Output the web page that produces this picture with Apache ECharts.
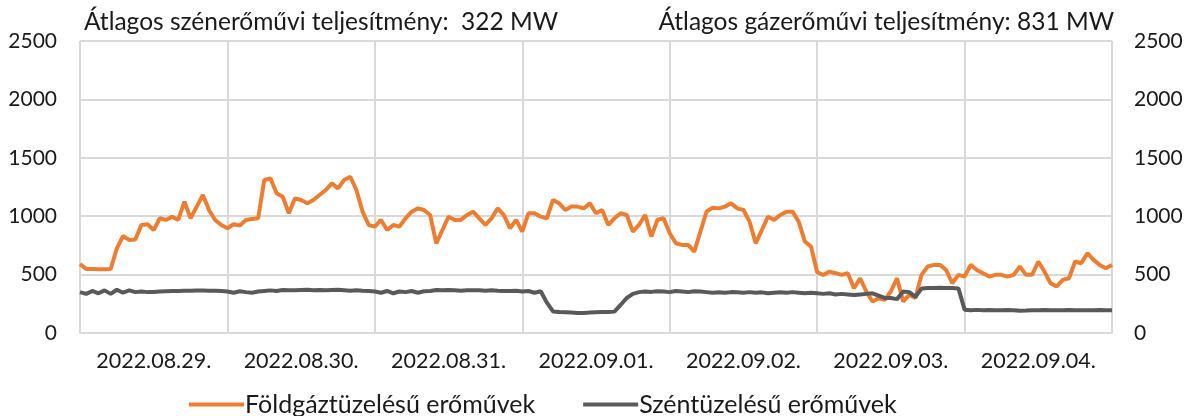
<!DOCTYPE html>
<html><head><meta charset="utf-8">
<script src="https://cdn.jsdelivr.net/npm/echarts@6/dist/echarts.min.js"></script>
<style>html,body{margin:0;padding:0;background:#fff}#c{width:1187px;height:416px}</style>
</head><body><div id="c"></div>
<script>
const days = ['2022.08.29.','2022.08.30.','2022.08.31.','2022.09.01.','2022.09.02.','2022.09.03.','2022.09.04.'];
const yTicks = [0,500,1000,1500,2000,2500];
const gasName = 'Földgáztüzelésű erőművek';
const coalName = 'Széntüzelésű erőművek';
const titleCoal = 'Átlagos szénerőművi teljesítmény:  322 MW';
const titleGas = 'Átlagos gázerőművi teljesítmény: 831 MW';
// hourly values, hour 0 .. 168
const gas = [590,549,549,546,546,548,725,830,797,800,925,931,882,982,968,996,968,1125,982,1082,1181,1053,968,925,
897,931,919,968,976,982,1310,1324,1196,1167,1025,1153,1139,1110,1139,1181,1224,1281,1238,1310,1338,1224,1039,925,
911,968,882,925,911,982,1039,1067,1053,1010,768,882,996,968,968,1010,1039,982,925,982,1067,1010,897,968,
868,1025,1025,996,982,1139,1110,1053,1082,1082,1067,1110,1025,1053,925,982,1025,1010,868,925,1010,825,968,982,
854,768,754,754,697,868,1040,1073,1067,1082,1110,1067,1053,953,768,882,996,968,1010,1039,1039,953,783,740,
520,497,526,512,497,512,383,469,355,269,298,284,355,469,269,326,300,498,569,583,583,540,426,498,
483,583,540,512,483,498,498,483,498,569,498,498,612,526,426,398,455,469,612,597,683,626,583,555,583];
const coal = [350,335,360,340,365,335,370,345,365,350,355,350,352,356,358,360,360,362,362,363,363,362,362,360,
355,345,358,350,345,355,360,365,360,368,365,365,368,370,366,368,365,368,370,366,362,365,362,360,
355,345,360,340,355,350,360,345,358,360,368,365,368,365,362,365,365,365,362,365,362,360,360,362,
355,360,345,358,260,185,180,178,175,172,172,175,178,180,180,183,240,300,335,350,355,352,358,355,
350,360,355,350,358,355,350,345,348,345,350,348,345,350,345,348,340,345,348,345,350,345,340,345,
340,335,340,330,335,330,325,330,335,340,320,300,300,290,355,350,310,380,385,385,388,385,385,382,
200,195,198,195,196,195,194,196,195,190,192,195,195,196,195,194,195,196,195,195,194,195,196,195,195];

const FONT = 'Lato';
const TXT = '#1a1a1a';
const GRID = '#d9d9d9';
const chart = echarts.init(document.getElementById('c'), null, {renderer:'canvas'});
chart.setOption({
  animation:false,
  textStyle:{fontFamily:FONT},
  title:[
    {text:titleCoal, left:79, top:5, textStyle:{fontFamily:FONT,fontSize:24.5,fontWeight:'normal',color:TXT}},
    {text:titleGas, right:68, top:5, textStyle:{fontFamily:FONT,fontSize:24.5,fontWeight:'normal',color:TXT}}
  ],
  grid:{left:80,right:75,top:41,bottom:83,containLabel:false},
  legend:{left:184,top:387,itemWidth:55,itemHeight:4,itemGap:48,icon:'rect',
    textStyle:{fontFamily:FONT,fontSize:25,color:TXT,padding:[0,0,0,-4]},
    data:[gasName,coalName]},
  xAxis:[
    {type:'category',data:days,boundaryGap:true,
     axisLine:{show:true,lineStyle:{color:GRID,width:2}},axisTick:{show:false},
     splitLine:{show:true,lineStyle:{color:GRID,width:2}},
     axisLabel:{fontFamily:FONT,fontSize:21.5,color:TXT,margin:17,interval:0}},
    {type:'value',min:0,max:168,show:false}
  ],
  yAxis:[
    {type:'value',min:yTicks[0],max:yTicks[yTicks.length-1],interval:500,position:'left',
     axisLine:{show:false},axisTick:{show:false},
     splitLine:{show:true,lineStyle:{color:GRID,width:2}},
     axisLabel:{fontFamily:FONT,fontSize:21,color:TXT,margin:23,formatter:v=>String(v)}},
    {type:'value',min:yTicks[0],max:yTicks[yTicks.length-1],interval:500,position:'right',
     axisLine:{show:false},axisTick:{show:false},splitLine:{show:false},
     axisLabel:{fontFamily:FONT,fontSize:21,color:TXT,margin:22,formatter:v=>String(v)}}
  ],
  series:[
    {name:gasName,type:'line',xAxisIndex:1,yAxisIndex:0,symbol:'none',
     data:gas.map((v,i)=>[i,v]),lineStyle:{color:'#ED7D31',width:4},itemStyle:{color:'#ED7D31'},z:3},
    {name:coalName,type:'line',xAxisIndex:1,yAxisIndex:0,symbol:'none',
     data:coal.map((v,i)=>[i,v]),lineStyle:{color:'#595959',width:4},itemStyle:{color:'#595959'},z:4}
  ]
});
</script></body></html>
